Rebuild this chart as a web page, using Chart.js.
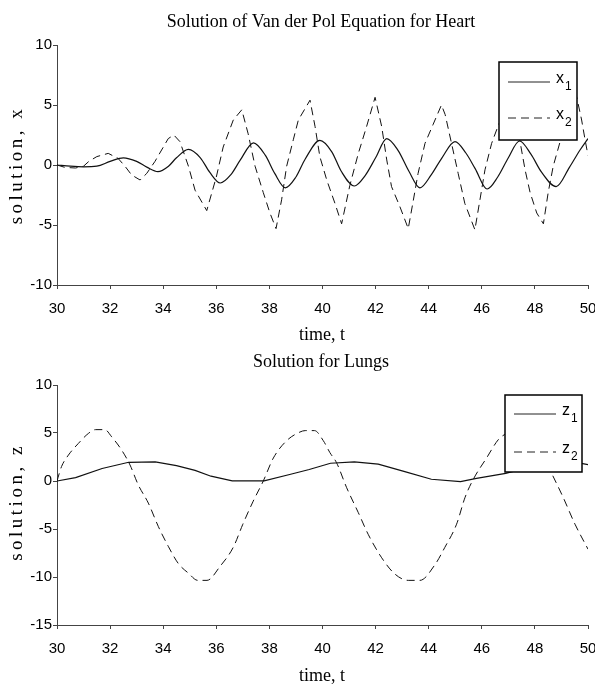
<!DOCTYPE html>
<html>
<head>
<meta charset="utf-8">
<script src="https://cdn.jsdelivr.net/npm/chart.js@4.4.1/dist/chart.umd.min.js"></script>
<style>
  html, body { margin: 0; padding: 0; background: #fff; }
  #wrap { position: relative; width: 595px; height: 686px; }
  .box { position: absolute; left: 0; width: 595px; height: 343px; }
</style>
</head>
<body>
<div id="wrap">
  <div class="box" style="top:0"><canvas id="heart" width="595" height="343"></canvas></div>
  <div class="box" style="top:343px"><canvas id="lungs" width="595" height="343"></canvas></div>
</div>
<script>
// heart (Van der Pol)
const x1Time = [30, 30.5, 31, 31.5, 32, 32.5, 33, 33.4, 33.8, 34.2, 34.5, 34.95, 35.4, 35.75, 36.15, 36.55, 36.9, 37.4, 37.85, 38.2, 38.6, 39.0, 39.35, 39.9, 40.35, 40.7, 41.2, 41.6, 42.0, 42.42, 42.85, 43.25, 43.67, 44.1, 44.5, 44.99, 45.4, 45.75, 46.2, 46.6, 47.0, 47.42, 47.85, 48.25, 48.8, 49.3, 49.7, 50];
const x1Vals = [0, -0.1, -0.15, -0.1, 0.3, 0.6, 0.3, -0.2, -0.55, -0.1, 0.6, 1.3, 0.6, -0.6, -1.5, -0.8, 0.4, 1.85, 0.8, -0.7, -1.9, -1.0, 0.5, 2.05, 1.1, -0.5, -1.75, -0.9, 0.6, 2.2, 1.2, -0.5, -1.9, -0.8, 0.6, 1.95, 1.0, -0.3, -2.0, -1.0, 0.6, 2.0, 0.9, -0.6, -1.8, -0.2, 1.25, 2.2];

const x2Time = [30, 30.3, 30.7, 31, 31.2, 31.5, 31.93, 32.3, 32.56, 32.81, 33.13, 33.38, 33.69, 33.94, 34.19, 34.4, 34.63, 34.95, 35.2, 35.64, 36.0, 36.26, 36.64, 36.96, 37.2, 37.46, 37.77, 38.02, 38.25, 38.46, 38.65, 38.9, 39.09, 39.53, 39.72, 39.9, 40.16, 40.47, 40.72, 41.03, 41.35, 41.66, 41.98, 42.23, 42.42, 42.6, 42.92, 43.23, 43.42, 43.6, 43.86, 44.17, 44.48, 44.62, 44.86, 45.11, 45.36, 45.74, 45.93, 46.12, 46.37, 46.62, 47.0, 47.25, 47.44, 47.63, 47.82, 48.07, 48.32, 48.5, 48.69, 48.95, 49.2, 49.57, 49.76, 49.89, 50];
const x2Vals = [0, -0.2, -0.25, -0.1, 0.3, 0.7, 0.97, 0.55, -0.1, -0.83, -1.25, -0.7, 0.3, 1.25, 2.2, 2.5, 1.95, -0.1, -2.1, -3.8, -1.0, 1.5, 3.75, 4.6, 2.6, -0.1, -2.3, -4.0, -5.3, -2.9, -0.1, 2.1, 3.75, 5.4, 3.2, 0.7, -1.25, -3.2, -4.9, -1.7, 0.97, 3.2, 5.64, 3.2, 0.42, -1.8, -3.5, -5.3, -2.95, -0.7, 1.8, 3.4, 5.0, 4.2, 1.8, -0.7, -3.2, -5.4, -2.9, -0.4, 1.8, 3.3, 5.0, 3.8, 1.95, -0.4, -2.3, -4.0, -4.9, -2.3, -0.1, 1.95, 3.8, 5.7, 3.75, 2.1, 0.8];

// lungs
const z1Time = [30, 30.7, 31.7, 32.7, 33.7, 34.5, 35.2, 35.8, 36.6, 37.8, 38.8, 39.5, 40.3, 41.2, 42.1, 43.1, 44.1, 45.2, 45.8, 46.9, 48.0, 49.0, 49.8, 50];
const z1Vals = [0, 0.35, 1.3, 1.95, 2.0, 1.6, 1.1, 0.5, 0.02, 0.02, 0.7, 1.2, 1.85, 2.0, 1.75, 0.97, 0.18, -0.07, 0.28, 0.8, 1.6, 2.0, 1.8, 1.7];

const z2Time = [30, 30.17, 30.43, 30.8, 31.18, 31.45, 31.8, 32.06, 32.44, 32.75, 33.06, 33.44, 33.82, 34.2, 34.57, 34.95, 35.3, 35.65, 36.14, 36.64, 37.0, 37.39, 37.77, 38.15, 38.65, 39.15, 39.35, 39.7, 40.03, 40.28, 40.53, 40.91, 41.35, 41.72, 42.23, 42.73, 43.23, 43.67, 44.24, 44.6, 45.05, 45.37, 45.68, 46.18, 46.62, 46.87, 47.3, 47.6, 48.1, 48.63, 49.07, 49.51, 50];
const z2Vals = [0, 1.5, 2.7, 3.9, 4.95, 5.35, 5.35, 4.6, 3.2, 1.67, -0.4, -2.3, -4.76, -6.85, -8.6, -9.6, -10.35, -10.35, -8.9, -6.9, -4.5, -2.1, 0, 2.4, 4.2, 5.1, 5.25, 5.25, 4.2, 2.95, 1.9, -0.7, -3.3, -5.55, -8.0, -9.7, -10.35, -10.35, -8.7, -6.95, -4.5, -1.7, 0.18, 2.4, 4.3, 4.86, 5.3, 5.3, 3.8, 0.8, -1.74, -4.5, -7.1];

const timeTicks = [30, 32, 34, 36, 38, 40, 42, 44, 46, 48, 50];
const heartTicks = [-10, -5, 0, 5, 10];
const lungTicks = [-15, -10, -5, 0, 5, 10];

const pts = (ts, vs) => ts.map((t, i) => ({ x: t, y: vs[i] }));

const serif = '"Liberation Serif", "Times New Roman", serif';
const narrow = '"Liberation Sans Narrow", "Liberation Sans", Arial, sans-serif';
const axisCol = '#444';

// titles, rotated y label and the boxed legend with subscripts
const decor = {
  id: 'decor',
  afterDraw(chart, args, o) {
    const ctx = chart.ctx;
    ctx.save();
    ctx.fillStyle = '#000';
    ctx.textAlign = 'center';
    ctx.textBaseline = 'middle';
    ctx.font = '18px ' + serif;
    ctx.fillText(o.title, 321, o.titleY);
    ctx.fillText('time, t', 322, o.xTitleY);
    ctx.save();
    ctx.translate(17, o.yTitleY);
    ctx.rotate(-Math.PI / 2);
    ctx.font = '19px ' + serif;
    ctx.letterSpacing = '3.5px';
    ctx.fillText(o.yTitle, 0, 0);
    ctx.restore();

    const b = o.legend;
    ctx.fillStyle = '#fff';
    ctx.fillRect(b.x, b.y, b.w, b.h);
    ctx.strokeStyle = '#000';
    ctx.lineWidth = 1.5;
    ctx.strokeRect(b.x, b.y, b.w, b.h);
    ctx.lineWidth = 1;
    ctx.strokeStyle = '#222';
    b.names.forEach((nm, i) => {
      const ly = b.y + b.rows[i];
      ctx.setLineDash(i === 0 ? [] : [8, 5]);
      ctx.beginPath();
      ctx.moveTo(b.x + 9, ly);
      ctx.lineTo(b.x + 51, ly);
      ctx.stroke();
      ctx.setLineDash([]);
      ctx.fillStyle = '#000';
      ctx.textAlign = 'left';
      ctx.font = '16px ' + narrow;
      ctx.fillText(nm, b.x + 57, ly - 3);
      ctx.font = '12px ' + narrow;
      ctx.fillText(String(i + 1), b.x + 66, ly + 5);
    });
    ctx.restore();
  }
};

function makeChart(id, sets, yMin, yMax, yTicks, padTop, xHeight, deco) {
  return new Chart(document.getElementById(id), {
    type: 'line',
    data: { datasets: sets },
    options: {
      responsive: false,
      animation: false,
      devicePixelRatio: 1,
      layout: { padding: { top: padTop, right: 7, left: 0, bottom: 0 } },
      plugins: { legend: { display: false }, tooltip: { enabled: false }, decor: deco },
      elements: { point: { radius: 0 } },
      scales: {
        x: {
          type: 'linear', min: 30, max: 50,
          afterBuildTicks: s => { s.ticks = timeTicks.map(v => ({ value: v })); },
          afterFit: s => { s.height = xHeight; s.paddingLeft = 0; s.paddingRight = 0; },
          grid: { drawOnChartArea: false, tickLength: 4, color: axisCol },
          border: { color: axisCol, width: 1 },
          ticks: { color: '#000', padding: 11, maxRotation: 0, font: { family: narrow, size: 15 } }
        },
        y: {
          min: yMin, max: yMax,
          afterBuildTicks: s => { s.ticks = yTicks.map(v => ({ value: v })); },
          afterFit: s => { s.width = 57; s.paddingTop = 0; s.paddingBottom = 0; },
          grid: { drawOnChartArea: false, tickLength: 4, color: axisCol },
          border: { color: axisCol, width: 1 },
          ticks: { color: '#000', padding: 1, font: { family: narrow, size: 15 } }
        }
      }
    },
    plugins: [decor]
  });
}

makeChart('heart', [
  { label: 'x1', data: pts(x1Time, x1Vals), borderColor: '#111', borderWidth: 1.2, cubicInterpolationMode: 'monotone' },
  { label: 'x2', data: pts(x2Time, x2Vals), borderColor: '#111', borderWidth: 1, borderDash: [8, 5], tension: 0 }
], -10, 10, heartTicks, 45, 58, {
  title: 'Solution of Van der Pol Equation for Heart', titleY: 22, xTitleY: 335,
  yTitle: 'solution, x', yTitleY: 165,
  legend: { x: 499, y: 62, w: 78, h: 78, rows: [20, 56], names: ['x', 'x'] }
});

makeChart('lungs', [
  { label: 'z1', data: pts(z1Time, z1Vals), borderColor: '#111', borderWidth: 1.2, tension: 0 },
  { label: 'z2', data: pts(z2Time, z2Vals), borderColor: '#111', borderWidth: 1, borderDash: [8, 5], cubicInterpolationMode: 'monotone' }
], -15, 10, lungTicks, 42, 61, {
  title: 'Solution for Lungs', titleY: 19, xTitleY: 333,
  yTitle: 'solution, z', yTitleY: 159,
  legend: { x: 505, y: 52, w: 77, h: 77, rows: [19, 57], names: ['z', 'z'] }
});
</script>
</body>
</html>
